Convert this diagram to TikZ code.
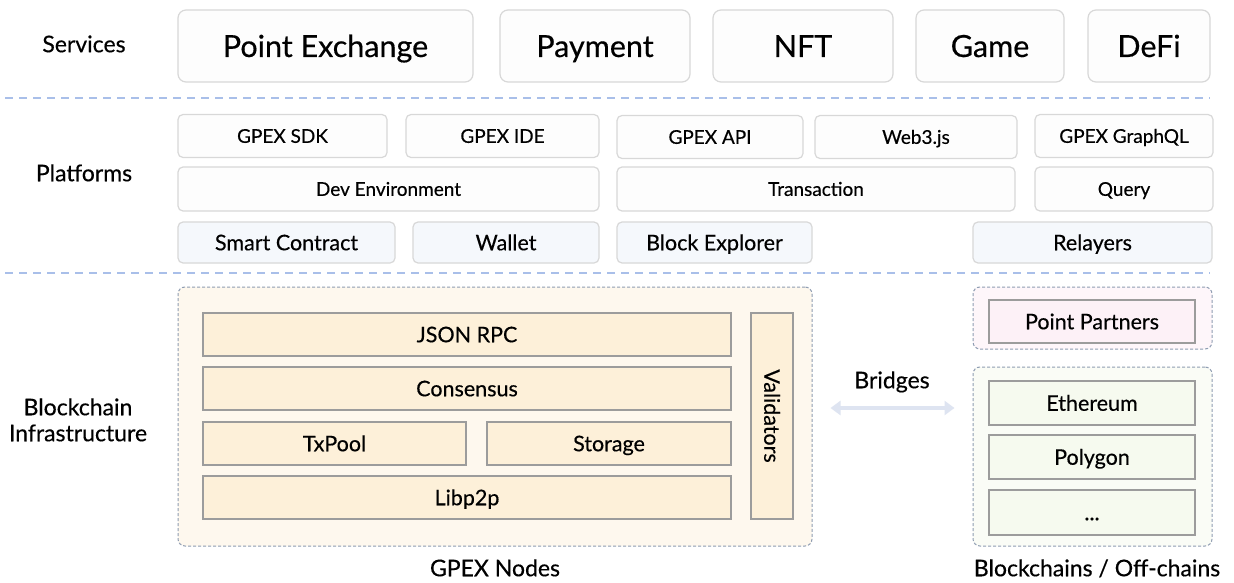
\documentclass[tikz,border=0pt]{standalone}
\usepackage{fontspec}
\setmainfont{Lato}[FakeBold=0.4]
\usepackage{tikz}
\usetikzlibrary{positioning, arrows.meta, calc}

\definecolor{sepblue}{HTML}{A9BFE9}
\definecolor{boxline}{HTML}{D8D8D8}
\definecolor{boxfill}{HTML}{FDFDFD}
\definecolor{bluefill}{HTML}{F5F8FC}
\definecolor{grpline}{HTML}{8F9DB2}
\definecolor{creamgrp}{HTML}{FEF8EE}
\definecolor{creamfill}{HTML}{FDF0D9}
\definecolor{pinkgrp}{HTML}{FEF6FA}
\definecolor{pinkfill}{HTML}{FDF1F7}
\definecolor{greengrp}{HTML}{FAFCF6}
\definecolor{greenfill}{HTML}{F6FAEF}
\definecolor{layerline}{HTML}{9C9C9C}
\definecolor{bridgecol}{HTML}{DEE4F1}

\begin{document}
\begin{tikzpicture}[x=1pt, y=-1pt,
    every node/.style={inner sep=0pt, text=black, text depth=0pt},
    sidelabel/.style={font=\fontsize{23}{26}\selectfont, text height=16.5pt, align=center},
    svcbox/.style={draw=boxline, fill=boxfill, line width=1.2pt, rounded corners=8pt, minimum height=72pt, font=\fontsize{30.5}{34}\selectfont, text height=22pt},
    platbox/.style={draw=boxline, fill=boxfill, line width=1.2pt, rounded corners=5pt, minimum height=43pt, font=\fontsize{19}{23}\selectfont, text height=13.7pt},
    toolbox/.style={platbox, fill=bluefill, minimum height=41pt, font=\fontsize{21.5}{25}\selectfont, text height=15.5pt},
    grpbox/.style={draw=grpline, line width=1pt, dash pattern=on 3pt off 2pt, rounded corners=7pt},
    layerbox/.style={draw=layerline, line width=1.2pt, fill=creamfill, minimum height=43pt, font=\fontsize{21.5}{25}\selectfont, text height=15.5pt},
    chainbox/.style={layerbox, fill=greenfill},
    sepline/.style={draw=sepblue, line width=1.3pt, dash pattern=on 8pt off 6pt}]

    \useasboundingbox[fill=white] (0,0) rectangle (1234,583);

    % layer separators
    \draw[sepline] (5,98) -- (1210,98);
    \draw[sepline] (5,273) -- (1210,273);

    % side labels
    \node[sidelabel] (lsvc) at (84,44) {Services};
    \node[sidelabel] (lplat) at (84,173) {Platforms};
    \node[sidelabel] (linfra) at (78,433) {Blockchain\\Infrastructure};

    % services
    \node[svcbox, minimum width=295pt] (pex) at (325.5,46) {Point Exchange};
    \node[svcbox, minimum width=190pt] (pay) at (595,46) {Payment};
    \node[svcbox, minimum width=180pt] (nft) at (803,46) {NFT};
    \node[svcbox, minimum width=148pt] (game) at (990,46) {Game};
    \node[svcbox, minimum width=122pt] (defi) at (1149,46) {DeFi};

    % platforms
    \node[platbox, minimum width=209pt] (sdk) at (282.5,136) {GPEX SDK};
    \node[platbox, minimum width=193pt] (ide) at (502.5,136) {GPEX IDE};
    \node[platbox, minimum width=186pt] (api) at (710,137) {GPEX API};
    \node[platbox, minimum width=202pt] (web3) at (916,137) {Web3.js};
    \node[platbox, minimum width=178pt] (gql) at (1124,136) {GPEX GraphQL};
    \node[platbox, minimum width=421pt, minimum height=44pt] (devenv) at (388.5,189) {Dev Environment};
    \node[platbox, minimum width=398pt, minimum height=44pt] (tx) at (816,189) {Transaction};
    \node[platbox, minimum width=178pt, minimum height=44pt] (query) at (1124,189) {Query};
    \node[toolbox, minimum width=217pt] (contract) at (286.5,242.5) {Smart Contract};
    \node[toolbox, minimum width=186pt] (wallet) at (506,242.5) {Wallet};
    \node[toolbox, minimum width=195pt] (explorer) at (714.5,242.5) {Block Explorer};
    \node[toolbox, minimum width=239pt] (relay) at (1092.5,242.5) {Relayers};

    % blockchain infrastructure
    \node[grpbox, fill=creamgrp, minimum width=634pt, minimum height=259pt] (gpex) at (495,416.5) {};
    \node[layerbox, minimum width=528pt] (rpc) at (467,334.5) {JSON RPC};
    \node[layerbox, minimum width=528pt] (cons) at (467,388.5) {Consensus};
    \node[layerbox, minimum width=263pt] (pool) at (334.5,443.5) {TxPool};
    \node[layerbox, minimum width=244pt] (store) at (609,443.5) {Storage};
    \node[layerbox, minimum width=528pt] (p2p) at (467,497.5) {Libp2p};
    \node[layerbox, rotate=-90, minimum width=206pt, minimum height=42pt] (valid) at (772,416) {Validators};
    \node[sidelabel] (lgpex) at (495,568) {GPEX Nodes};

    \node[grpbox, fill=pinkgrp, minimum width=239pt, minimum height=62pt] (pgrp) at (1092.5,318) {};
    \node[layerbox, fill=pinkfill, minimum width=206pt] (partner) at (1092,321.5) {Point Partners};

    \node[grpbox, fill=greengrp, minimum width=239pt, minimum height=179pt] (chains) at (1092.5,456.5) {};
    \node[chainbox, minimum width=206pt, minimum height=44pt] (eth) at (1092,403) {Ethereum};
    \node[chainbox, minimum width=206pt, minimum height=44pt] (poly) at (1092,457) {Polygon};
    \node[chainbox, minimum width=206pt, minimum height=45pt] (more) at (1092,512.5) {...};
    \node[sidelabel] (lchains) at (1097,568) {Blockchains / Off-chains};

    % bridges
    \coordinate (brg) at (892,408);
    \node[sidelabel] (lbrg) at (892,380) {Bridges};
    \draw[{Triangle[length=10pt,width=14pt]}-{Triangle[length=10pt,width=14pt]}, draw=bridgecol, line width=4pt, shorten <=18pt, shorten >=18pt]
        (gpex.east |- brg) -- (chains.west |- brg);
\end{tikzpicture}
\end{document}
